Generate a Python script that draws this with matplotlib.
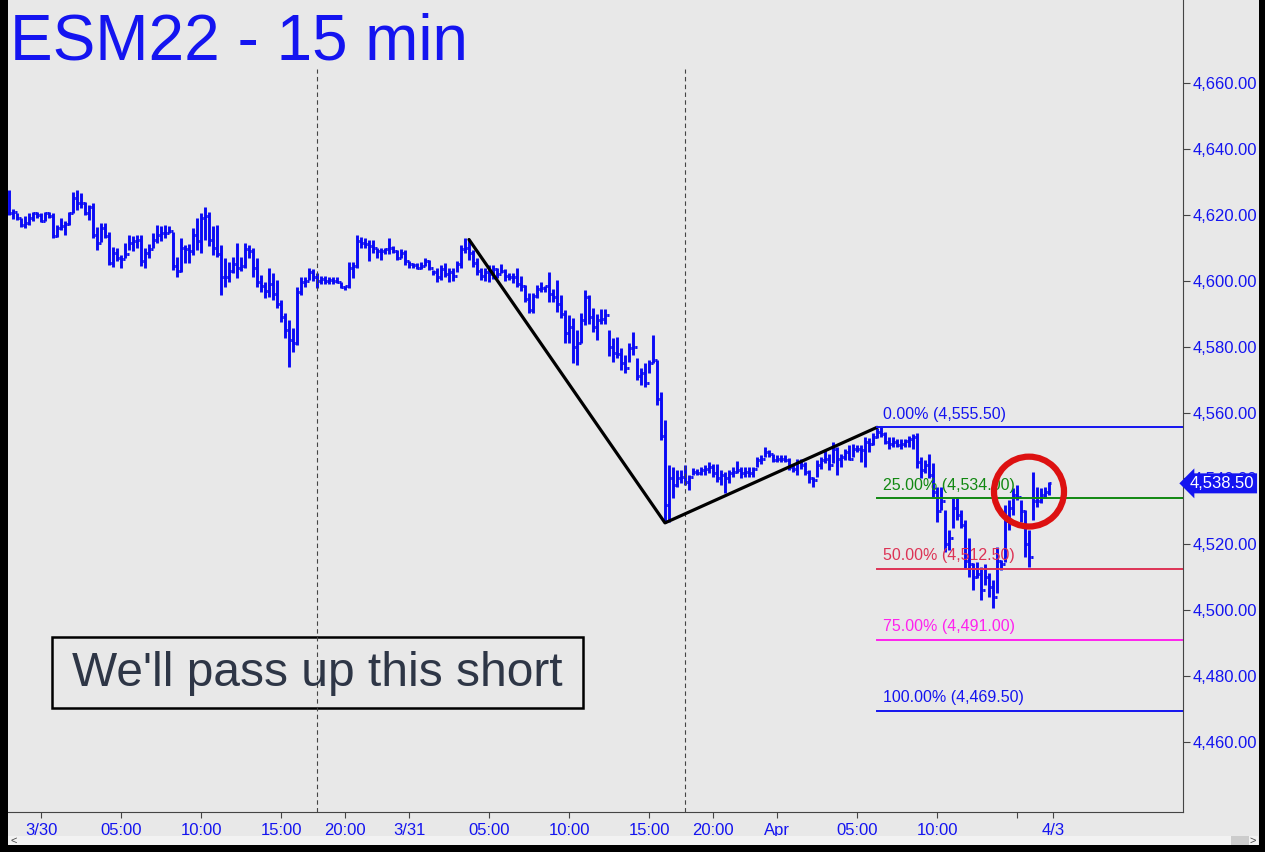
import numpy as np
import matplotlib
matplotlib.use("Agg")
import matplotlib.pyplot as plt
import matplotlib.transforms as mtransforms
from matplotlib.patches import Rectangle, Ellipse

plt.rcParams['font.family'] = ['Liberation Sans', 'DejaVu Sans']

# 15-min bars (bar index 0 = 3/29 22:00), highs / lows / closes
highs = [4627.5, 4621.75, 4620.5, 4619, 4619.5, 4620.5, 4621, 4621, 4620.5, 4621,
         4621, 4620.5, 4617, 4619, 4618, 4621, 4627, 4627.5, 4626.5, 4624,
         4623, 4623.5, 4616.25, 4617.5, 4617.5, 4614.75, 4610.25, 4610, 4607.75, 4611.5,
         4613.75, 4613.5, 4614, 4613.75, 4610, 4611, 4614.5, 4617, 4616.5, 4617,
         4616.5, 4614.75, 4607.25, 4613, 4610.75, 4611, 4616, 4619, 4620.5, 4622.5,
         4621, 4616.75, 4617, 4610.75, 4607, 4605.75, 4607.25, 4611.5, 4607.25, 4611.5,
         4610.75, 4610, 4607, 4601.75, 4599.5, 4604, 4602.25, 4600.25, 4594, 4590.25,
         4588, 4585.5, 4598, 4601, 4601, 4604, 4603.5, 4602.25, 4601.5, 4601.5,
         4601, 4601, 4601, 4599.5, 4598.5, 4605.75, 4605.75, 4614, 4613.25, 4613,
         4612.5, 4612.5, 4610, 4610, 4610, 4613, 4610.5, 4609.25, 4609.5, 4609.25,
         4606, 4605.5, 4605.5, 4605.75, 4607, 4606.25, 4603.25, 4604, 4604.75, 4605.5,
         4604, 4604, 4606, 4610.75, 4613, 4612.5, 4609.25, 4607, 4604, 4604,
         4604.75, 4604.75, 4604, 4605, 4603.5, 4602.25, 4602.25, 4604, 4601.5, 4598.75,
         4596.25, 4596.25, 4598.75, 4599.5, 4598.5, 4602.5, 4597.5, 4600.25, 4595.75, 4591,
         4589.5, 4588.75, 4585, 4590.25, 4597.25, 4595.75, 4591.75, 4589.75, 4591.5, 4591.5,
         4585, 4582.5, 4583, 4579.5, 4577.5, 4581, 4584.5, 4576.5, 4573.5, 4575,
         4576, 4583.5, 4576, 4566.25, 4557.75, 4544, 4543.5, 4542.5, 4542.5, 4544,
         4541, 4543.25, 4543, 4543.5, 4544, 4545, 4544.5, 4544.5, 4542.5, 4542,
         4542.5, 4543.5, 4545.25, 4543.5, 4543.5, 4543.5, 4543.5, 4546.5, 4547, 4549.5,
         4548.5, 4547.5, 4547, 4547, 4547, 4546.25, 4544.5, 4546, 4546, 4545,
         4542.5, 4540.5, 4545.5, 4546.5, 4548.5, 4547.5, 4551, 4549.5, 4547.5, 4549,
         4550, 4550.5, 4550, 4550, 4552.5, 4552.25, 4553.75, 4555.25, 4555.5, 4554,
         4552.5, 4552.5, 4552, 4552, 4552, 4553, 4553.5, 4553.75, 4546.5, 4545.5,
         4547.5, 4544.75, 4537.5, 4537.5, 4530.5, 4524.25, 4534, 4534.25, 4530.5, 4527.5,
         4522, 4514.25, 4514.5, 4513, 4514, 4511.25, 4509.25, 4519.25, 4515.25, 4532,
         4533.5, 4537, 4538, 4533.5, 4530.5, 4524.25, 4542, 4537.5, 4537, 4537.5,
         4539]
lows = [4620, 4618.75, 4618.5, 4616.25, 4616, 4617, 4618, 4619, 4617.75, 4618,
        4619, 4613, 4613.25, 4615.5, 4614, 4617, 4620.5, 4621.5, 4622, 4620,
        4618.5, 4613, 4609.25, 4611.75, 4613, 4604.75, 4604.25, 4606, 4604, 4607,
        4609.25, 4609, 4610, 4604.5, 4604, 4607, 4610, 4611.5, 4612, 4613,
        4614.5, 4603.25, 4601, 4602.5, 4605.5, 4605.5, 4607.75, 4609.25, 4608.5, 4612.5,
        4610.5, 4607.75, 4607.25, 4595.75, 4598, 4599.5, 4602.25, 4600.75, 4603, 4603.75,
        4607, 4601, 4598, 4596.5, 4594.75, 4595, 4594, 4591.75, 4587.5, 4582.5,
        4573.75, 4578.5, 4580.5, 4595.75, 4598, 4600.25, 4600, 4597.75, 4599, 4599,
        4599, 4599, 4599.25, 4597.75, 4597.25, 4597.75, 4600.75, 4604, 4610, 4610,
        4606, 4608.5, 4607, 4606.25, 4608, 4608, 4608.5, 4606.25, 4607, 4604.75,
        4604, 4604, 4603.5, 4603.5, 4604.5, 4603.25, 4601.75, 4599.5, 4600.25, 4601,
        4599.5, 4600, 4602.5, 4604, 4608.5, 4606.25, 4604.25, 4601.75, 4600.25, 4600,
        4599.5, 4600.5, 4600.75, 4602.25, 4600, 4600.25, 4599.25, 4598, 4597, 4593.5,
        4590.25, 4590.25, 4594.75, 4596.5, 4596.5, 4593.5, 4593.5, 4590.5, 4588.75, 4581,
        4581, 4575, 4574.5, 4581, 4586.5, 4587, 4584.5, 4582, 4587, 4587,
        4577, 4575.25, 4576.5, 4573, 4572, 4575.25, 4577.5, 4570, 4568.25, 4567.75,
        4572, 4575, 4562.25, 4551.75, 4526.5, 4526.75, 4534, 4537.5, 4538.5, 4538,
        4536.5, 4541, 4541, 4541, 4541, 4541.5, 4540.5, 4539, 4538, 4535.5,
        4538.5, 4540.5, 4541.5, 4540, 4540.5, 4540.5, 4540.5, 4543.5, 4544.5, 4546.5,
        4546.5, 4545, 4545, 4545, 4545, 4542.5, 4542, 4541, 4543, 4541,
        4538.75, 4537.5, 4540.5, 4543, 4544.75, 4542.5, 4544.75, 4541, 4543.5, 4545.5,
        4545.5, 4546.5, 4548, 4545, 4543.5, 4548, 4550, 4552.25, 4552.5, 4550.5,
        4549, 4549.5, 4549.5, 4549, 4549.5, 4549.5, 4549, 4543.25, 4540, 4541.5,
        4540, 4534.5, 4526.75, 4530.5, 4517.75, 4518.25, 4525, 4527.5, 4525, 4512.75,
        4510, 4506, 4509.75, 4503, 4507.5, 4504, 4500.75, 4505.25, 4512.25, 4514.5,
        4524.25, 4529, 4533.5, 4526.75, 4516.25, 4513, 4527.5, 4531.25, 4532.5, 4534,
        4535]
closes = [4620.5, 4620.75, 4619, 4617, 4617.5, 4619, 4620.5, 4620, 4618.25, 4620.5,
          4619.75, 4613.5, 4616, 4616.5, 4617.25, 4620.5, 4625, 4623.5, 4623.5, 4620.5,
          4622.5, 4614, 4611.5, 4616, 4613.5, 4605.5, 4608.5, 4607, 4606.5, 4608,
          4611.5, 4612, 4612.5, 4606, 4608.5, 4609.5, 4612.5, 4614, 4614.5, 4614.5,
          4615, 4604.5, 4603, 4610, 4609.5, 4609, 4614, 4612, 4619, 4619.5,
          4612.5, 4610, 4608, 4601, 4601, 4603, 4605, 4604, 4604.5, 4609.5,
          4609, 4604, 4599.5, 4598.5, 4597, 4599, 4596, 4593, 4589, 4585,
          4582, 4581, 4596.5, 4599.5, 4600, 4602.5, 4601, 4600, 4600.5, 4600,
          4600.25, 4600, 4599.5, 4598, 4598.25, 4604, 4604.5, 4612, 4611.5, 4611.25,
          4610.5, 4610, 4609, 4609, 4609.5, 4610, 4609, 4607, 4608.5, 4606,
          4605, 4604.75, 4604, 4604.5, 4606, 4604, 4602.5, 4601, 4603.5, 4602,
          4602.5, 4601.5, 4605, 4609.5, 4610, 4608.5, 4605.5, 4603, 4601.5, 4602.5,
          4602, 4603.5, 4602, 4603, 4601.5, 4601.25, 4601, 4599, 4598.25, 4594.5,
          4591, 4595.25, 4597.5, 4597.75, 4598.5, 4596, 4595, 4593, 4590, 4584,
          4586, 4580, 4581, 4588, 4595, 4589, 4586, 4588, 4588.5, 4589.5,
          4580, 4578, 4577.75, 4575, 4573.5, 4579.5, 4580, 4571, 4572, 4569,
          4575, 4576, 4564, 4553, 4532, 4540, 4538, 4540, 4540.5, 4539,
          4540.5, 4542, 4541.5, 4542.5, 4543, 4543.5, 4541.5, 4540, 4541, 4540,
          4541.5, 4542, 4542.5, 4541.5, 4542, 4541.75, 4543, 4545.5, 4546, 4548,
          4547.5, 4545.5, 4546, 4545.75, 4545.5, 4543.5, 4543, 4545, 4544, 4542,
          4540, 4539.5, 4544, 4545.5, 4546, 4544, 4549, 4546, 4546.5, 4548,
          4546, 4549, 4549, 4548.5, 4551, 4550.5, 4552.5, 4554, 4553.5, 4551,
          4550.5, 4551, 4550, 4550.5, 4551.5, 4552, 4552.5, 4545, 4542.5, 4544,
          4541, 4536, 4530, 4533, 4520, 4522, 4531, 4529, 4526, 4515,
          4514, 4510, 4511, 4506, 4510, 4507, 4504, 4515, 4514, 4527,
          4531, 4535, 4534.5, 4530, 4520, 4516, 4533, 4533, 4535, 4536,
          4538.5]

# time axis labels (bar index -> label)
tick_idx = [8, 28, 48, 68, 84, 100, 120, 140, 160, 176, 192, 212, 232, 252, 261]
tick_lbl = ['3/30', '05:00', '10:00', '15:00', '20:00', '3/31', '05:00', '10:00',
            '15:00', '20:00', 'Apr', '05:00', '10:00', '', '4/3']
day_idx = [8, 100, 192, 261]
session_breaks = [77.1, 169]

# swing drawn on chart (bar index, price)
swing_idx = [115, 164, 217]
swing_px = [4612.5, 4526.5, 4555.5]

fib_pct = ['0.00%', '25.00%', '50.00%', '75.00%', '100.00%']
fib_lvl = [4555.5, 4534.0, 4512.5, 4491.0, 4469.5]
fib_col = ['#1414f0', '#118811', '#dd3355', '#ff22ee', '#1414f0']
last_price = 4538.5

bg = '#e8e8e8'
fig = plt.figure(figsize=(12.65, 8.52), dpi=100, facecolor=bg)
ax = fig.add_axes([8/1265, 40/852, 1175/1265, 812/852])
ax.set_facecolor(bg)

n = len(highs)
idx = np.arange(n)
opens = [closes[0]] + closes[:-1]
bar_col = '#0a0af5'
ax.vlines(idx, lows, highs, color=bar_col, lw=2.1)
ax.hlines(opens, idx - 0.6, idx, color=bar_col, lw=2.1)
ax.hlines(closes, idx, idx + 0.6, color=bar_col, lw=2.1)

for b in session_breaks:
    ax.axvline(b, ymin=0, ymax=0.915, color='#444444', lw=0.8, ls=(0, (4, 3)))

ax.plot(swing_idx, swing_px, color='black', lw=2.3, solid_capstyle='round')

for p, lv, c in zip(fib_pct, fib_lvl, fib_col):
    ax.plot([swing_idx[2], 293.5], [lv, lv], color=c, lw=1.4)
    ax.annotate(f'{p} ({lv:,.2f})', (swing_idx[2] + 1.5, lv), xytext=(0, 4),
                textcoords='offset points', color=c, fontsize=11.5, ha='left', va='bottom')

ax.add_patch(Ellipse((255, 4536), 17.5, 21.2, fill=False, ec='#dd1111', lw=4.5, zorder=4))

ax.set_xlim(-0.25, 293.5)
ax.set_ylim(4438.75, 4685.2)

yt = np.arange(4460, 4661, 20)
ax.yaxis.tick_right()
ax.set_yticks(yt)
ax.set_yticklabels([f'{v:,.2f}' for v in yt])
ax.tick_params(axis='y', colors='#444444', labelcolor='#1414f0', labelsize=12, length=5, pad=2)
ax.set_xticks(tick_idx)
ax.set_xticklabels(tick_lbl)
ax.set_xticks(day_idx, minor=True)
ax.tick_params(axis='x', which='major', colors='#444444', labelcolor='#1414f0', labelsize=12,
               length=4, pad=4)
ax.tick_params(axis='x', which='minor', colors='#444444', length=9)
for s in ['left', 'top']:
    ax.spines[s].set_visible(False)
for s in ['right', 'bottom']:
    ax.spines[s].set_color('#444444')

# current price tag, drawn over the 4,540.00 label as on the original
tr = mtransforms.blended_transform_factory(ax.transAxes, ax.transData)
ax.text(1.006, last_price, f'{last_price:,.2f}', transform=tr, color='white', fontsize=12,
        ha='left', va='center', clip_on=False, zorder=6,
        bbox=dict(boxstyle='larrow,pad=0.15', fc='#1414f0', ec='none'))

ax.text(0.002, 0.984, 'ESM22 - 15 min', transform=ax.transAxes, color='#1414f0',
        fontsize=46, ha='left', va='top')

ax.add_patch(Rectangle((44/1175, 104/812), 531/1175, 71/812, transform=ax.transAxes,
                       fc=bg, ec='black', lw=1.8))
ax.text(309/1175, 138/812, "We'll pass up this short", transform=ax.transAxes,
        color='#2e3646', fontsize=34.5, ha='center', va='center')

# window frame and scrollbar
fig.patches.append(Rectangle((8/1265, 7/852), 1250/1265, 9/852, transform=fig.transFigure,
                             fc='#f2f2f2', ec='none'))
fig.patches.append(Rectangle((1231/1265, 7/852), 18/1265, 9/852, transform=fig.transFigure,
                             fc='#cccccc', ec='none'))
fig.text(14/1265, 11.5/852, '<', fontsize=8, color='#444444', ha='center', va='center')
fig.text(1253/1265, 11.5/852, '>', fontsize=8, color='#444444', ha='center', va='center')
for rx, ry, rw, rh in [(0, 0, 8, 852), (0, 0, 1265, 7), (1259, 0, 6, 852)]:
    fig.patches.append(Rectangle((rx/1265, ry/852), rw/1265, rh/852,
                                 transform=fig.transFigure, fc='black', ec='none'))

fig.savefig('out.png', dpi=100, facecolor=bg)
